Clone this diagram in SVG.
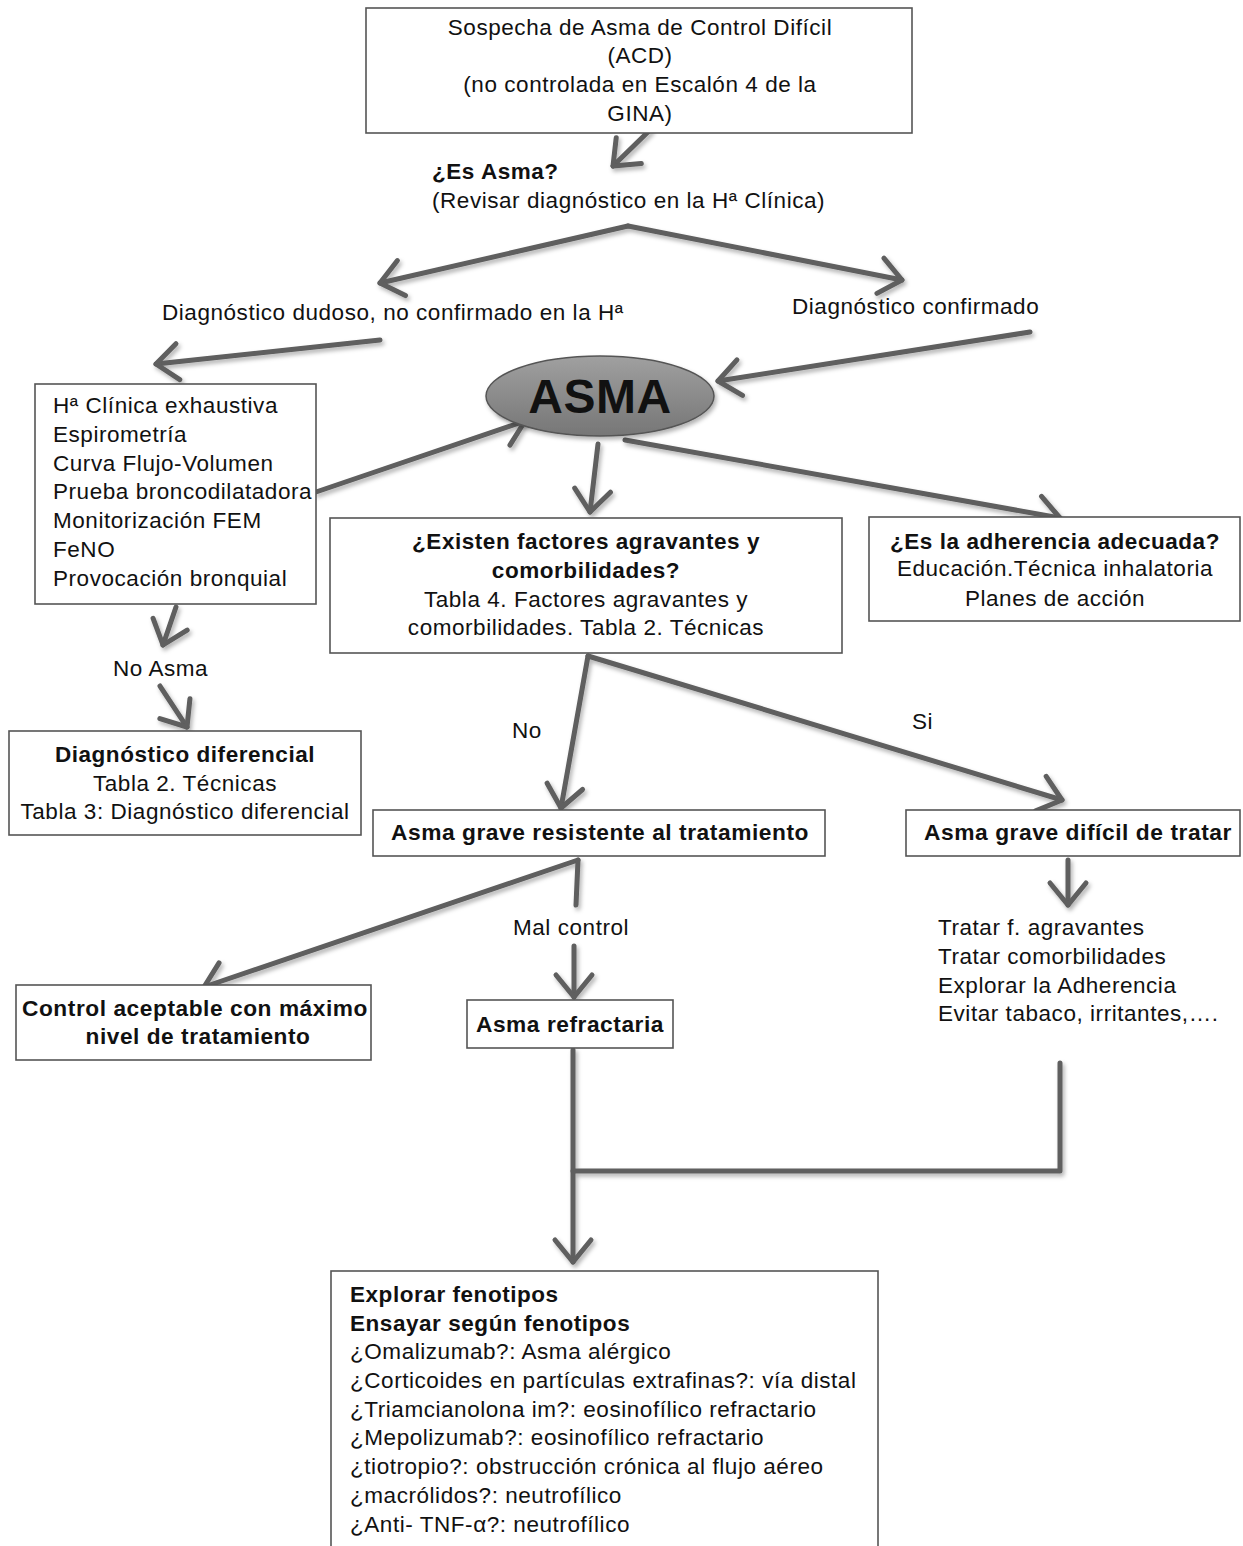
<svg xmlns="http://www.w3.org/2000/svg" width="1243" height="1546" viewBox="0 0 1243 1546">
<style>
text{font-family:"Liberation Sans",Arial,sans-serif;fill:#111;font-size:22.5px;letter-spacing:0.55px}
.b{font-weight:bold}
.c{text-anchor:middle}
.box{fill:#fff;stroke:#555;stroke-width:1.6}
.con{fill:none;stroke:#5e5e5e;stroke-width:5;stroke-linecap:round;stroke-linejoin:round}
.arr{marker-end:url(#ah)}
</style>
<defs>
<marker id="ah" markerUnits="userSpaceOnUse" markerWidth="60" markerHeight="60" viewBox="-30 -30 60 60" refX="0" refY="0" orient="auto" overflow="visible">
<path d="M-22,-18 L0,0 L-22,18" fill="none" stroke="#5e5e5e" stroke-width="5" stroke-linecap="round" stroke-linejoin="round"/>
</marker>
<filter id="sh" x="-10%" y="-10%" width="130%" height="140%">
<feDropShadow dx="2" dy="3" stdDeviation="2" flood-color="#000" flood-opacity="0.3"/>
</filter>
<linearGradient id="eg" x1="0" y1="0" x2="0" y2="1">
<stop offset="0" stop-color="#a0a0a0"/>
<stop offset="1" stop-color="#767676"/>
</linearGradient>
</defs>

<g id="connectors" filter="url(#sh)">
<path class="con arr" d="M650,130 L613,166"/>
<path class="con arr" d="M628,226 L380,283"/>
<path class="con arr" d="M628,226 L902,280"/>
<path class="con arr" d="M380,340 L156,364"/>
<path class="con arr" d="M1030,332 L718,381"/>
<path class="con arr" d="M316,492 L525,421"/>
<path class="con arr" d="M598,444 L590,512"/>
<path class="con arr" d="M625,440 L1060,518"/>
<path class="con arr" d="M176,607 L163,645"/>
<path class="con arr" d="M160,686 L187,727"/>
<path class="con arr" d="M588,656 L561,808"/>
<path class="con arr" d="M588,656 L1062,800"/>
<path class="con arr" d="M578,860 L204,987"/>
<path class="con" d="M578,860 L576,905"/>
<path class="con arr" d="M574,946 L574,997"/>
<path class="con arr" d="M1068,860 L1068,905"/>
<path class="con arr" d="M573,1050 L573,1262"/>
<path class="con" d="M1060,1063 L1060,1171 L573,1171"/>
</g>

<g id="n_top">
<rect class="box" x="366" y="8" width="546" height="125"/>
<text class="c" x="640" y="35">Sospecha de Asma de Control Difícil</text>
<text class="c" x="640" y="63">(ACD)</text>
<text class="c" x="640" y="92">(no controlada en Escalón 4 de la</text>
<text class="c" x="640" y="121">GINA)</text>
</g>

<g id="n_esasma">
<text class="b" x="432" y="179">¿Es Asma?</text>
<text x="432" y="208">(Revisar diagnóstico en la Hª Clínica)</text>
</g>

<g id="n_dudoso">
<text x="162" y="320">Diagnóstico dudoso, no confirmado en la Hª</text>
</g>
<g id="n_confirmado">
<text x="792" y="314">Diagnóstico confirmado</text>
</g>

<g id="n_asma">
<ellipse cx="600" cy="396" rx="114" ry="40" fill="url(#eg)" stroke="#555" stroke-width="1.5" filter="url(#sh)"/>
<text class="b c" x="600" y="413" style="font-size:48px;letter-spacing:0.5px">ASMA</text>
</g>

<g id="n_pruebas">
<rect class="box" x="35" y="384" width="281" height="220"/>
<text x="53" y="413">Hª Clínica exhaustiva</text>
<text x="53" y="442">Espirometría</text>
<text x="53" y="471">Curva Flujo-Volumen</text>
<text x="53" y="499">Prueba broncodilatadora</text>
<text x="53" y="528">Monitorización FEM</text>
<text x="53" y="557">FeNO</text>
<text x="53" y="586">Provocación bronquial</text>
</g>

<g id="n_factores">
<rect class="box" x="330" y="518" width="512" height="135"/>
<text class="b c" x="586" y="549">¿Existen factores agravantes y</text>
<text class="b c" x="586" y="578">comorbilidades?</text>
<text class="c" x="586" y="607">Tabla 4. Factores agravantes y</text>
<text class="c" x="586" y="635">comorbilidades. Tabla 2. Técnicas</text>
</g>

<g id="n_adherencia">
<rect class="box" x="869" y="517" width="371" height="104"/>
<text class="b c" x="1055" y="549">¿Es la adherencia adecuada?</text>
<text class="c" x="1055" y="576">Educación.Técnica inhalatoria</text>
<text class="c" x="1055" y="606">Planes de acción</text>
</g>

<g id="n_noasma">
<text x="113" y="676">No Asma</text>
</g>

<g id="n_difer">
<rect class="box" x="9" y="731" width="352" height="104"/>
<text class="b c" x="185" y="762">Diagnóstico diferencial</text>
<text class="c" x="185" y="791">Tabla 2. Técnicas</text>
<text class="c" x="185" y="819">Tabla 3: Diagnóstico diferencial</text>
</g>

<g id="l_no"><text x="512" y="738">No</text></g>
<g id="l_si"><text x="912" y="729">Si</text></g>

<g id="n_resistente">
<rect class="box" x="373" y="810" width="452" height="46"/>
<text class="b c" x="600" y="840" textLength="418" lengthAdjust="spacingAndGlyphs">Asma grave resistente al tratamiento</text>
</g>

<g id="n_dificil">
<rect class="box" x="906" y="810" width="334" height="46"/>
<text class="b c" x="1078" y="840" textLength="308" lengthAdjust="spacingAndGlyphs">Asma grave difícil de tratar</text>
</g>

<g id="l_mal"><text x="513" y="935">Mal control</text></g>

<g id="n_control">
<rect class="box" x="16" y="985" width="355" height="75"/>
<text class="b c" x="195" y="1016" textLength="346" lengthAdjust="spacingAndGlyphs">Control aceptable con máximo</text>
<text class="b c" x="198" y="1044" textLength="225" lengthAdjust="spacingAndGlyphs">nivel de tratamiento</text>
</g>

<g id="n_refractaria">
<rect class="box" x="467" y="1000" width="206" height="48"/>
<text class="b c" x="570" y="1032" textLength="188" lengthAdjust="spacingAndGlyphs">Asma refractaria</text>
</g>

<g id="n_tratar">
<text x="938" y="935">Tratar f. agravantes</text>
<text x="938" y="964">Tratar comorbilidades</text>
<text x="938" y="993">Explorar la Adherencia</text>
<text x="938" y="1021">Evitar tabaco, irritantes,….</text>
</g>

<g id="n_fenotipos">
<rect class="box" x="331" y="1271" width="547" height="300"/>
<text class="b" x="350" y="1302">Explorar fenotipos</text>
<text class="b" x="350" y="1331">Ensayar según fenotipos</text>
<text x="350" y="1359">¿Omalizumab?: Asma alérgico</text>
<text x="350" y="1388">¿Corticoides en partículas extrafinas?: vía distal</text>
<text x="350" y="1417">¿Triamcianolona im?: eosinofílico refractario</text>
<text x="350" y="1445">¿Mepolizumab?: eosinofílico refractario</text>
<text x="350" y="1474">¿tiotropio?: obstrucción crónica al flujo aéreo</text>
<text x="350" y="1503">¿macrólidos?: neutrofílico</text>
<text x="350" y="1532">¿Anti- TNF-α?: neutrofílico</text>
</g>
</svg>
